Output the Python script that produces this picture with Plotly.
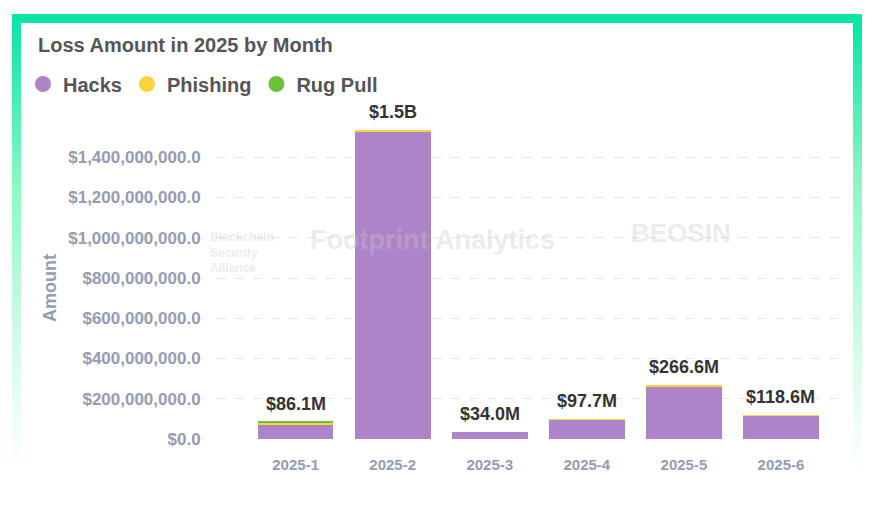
import plotly.graph_objects as go

months = ["2025-1", "2025-2", "2025-3", "2025-4", "2025-5", "2025-6"]
hacks = [72.0e6, 1528.0e6, 34.0e6, 97.0e6, 260.6e6, 118.0e6]
phishing = [8.5e6, 5.5e6, 0.0, 0.7e6, 6.0e6, 0.6e6]
rug_pull = [5.6e6, 0.0, 0.0, 0.0, 0.0, 0.0]
total_labels = ["$86.1M", "$1.5B", "$34.0M", "$97.7M", "$266.6M", "$118.6M"]
y_ticks = [0, 2e8, 4e8, 6e8, 8e8, 1e9, 1.2e9, 1.4e9]

C_HACK = "#AE84C8"
C_PHISH = "#FDD23A"
C_RUG = "#6CC13A"
FONT = "Liberation Sans"

W, H = 885, 511
L, R, T, B = 217, 39, 117, 72
pw, ph = W - L - R, H - T - B

def px2paper_x(x):
    return (x - L) / pw

def px2paper_y(y):
    return (H - B - y) / ph

fig = go.Figure()
for name, vals, col in [("Hacks", hacks, C_HACK), ("Phishing", phishing, C_PHISH), ("Rug Pull", rug_pull, C_RUG)]:
    fig.add_trace(go.Bar(x=months, y=vals, name=name, marker=dict(color=col, line=dict(width=0)),
                         width=0.78, showlegend=False))
    fig.add_trace(go.Scatter(x=[None], y=[None], mode="markers", name=name,
                             marker=dict(color=col, size=17, symbol="circle"), showlegend=True))

totals = [h + p + r for h, p, r in zip(hacks, phishing, rug_pull)]
for m, t, lab in zip(months, totals, total_labels):
    fig.add_annotation(x=m, y=t, text=lab, showarrow=False, yanchor="bottom", yshift=6,
                       font=dict(family=FONT, size=18, color="#333333", weight="bold"))

# title
fig.add_annotation(xref="paper", yref="paper", x=px2paper_x(36), y=px2paper_y(45), xanchor="left",
                   yanchor="middle", text="Loss Amount in 2025 by Month", showarrow=False,
                   font=dict(family=FONT, size=20, color="#555555", weight="bold"))
# y axis title
fig.add_annotation(xref="paper", yref="paper", x=px2paper_x(50), y=px2paper_y(288), textangle=-90,
                   text="Amount", showarrow=False, xanchor="center", yanchor="middle",
                   font=dict(family=FONT, size=18, color="#959BB2", weight="bold"))

# faint watermarks
fig.add_annotation(xref="paper", yref="paper", x=px2paper_x(432), y=px2paper_y(240), text="Footprint Analytics",
                   showarrow=False, font=dict(family=FONT, size=27, color="rgba(200,200,200,0.35)", weight="bold"))
fig.add_annotation(xref="paper", yref="paper", x=px2paper_x(733), y=px2paper_y(233), text="BEOSIN",
                   showarrow=False, font=dict(family=FONT, size=26, color="rgba(200,200,200,0.35)", weight="bold"))
fig.add_annotation(xref="paper", yref="paper", x=px2paper_x(208), y=px2paper_y(252), xanchor="left",
                   text="Blockchain<br>Security<br>Alliance", align="left",
                   showarrow=False, font=dict(family=FONT, size=12, color="rgba(200,200,200,0.35)", weight="bold"))

# frame with gradient
shapes = []
shapes.append(dict(type="rect", xref="paper", yref="paper", x0=px2paper_x(12), x1=px2paper_x(862),
                   y0=px2paper_y(14), y1=px2paper_y(23), fillcolor="#0BE6A6", line=dict(width=0), layer="below"))
top, bot = 23, 485
n = 60
c0 = (11, 230, 166)
c1 = (140, 248, 196)
for i in range(n):
    ya = top + (bot - top) * i / n
    yb = top + (bot - top) * (i + 1) / n
    f = i / (n - 1)
    if f < 0.35:
        g = f / 0.35
        col = tuple(round(c0[k] + (c1[k] - c0[k]) * g) for k in range(3))
        a = 1.0
    else:
        col = c1
        a = max(0.0, 1 - (f - 0.35) / 0.65) ** 1.2
    rgb = tuple(round(255 - (255 - col[k]) * a) for k in range(3))
    fc = "rgb(%d,%d,%d)" % rgb
    for xa, xb in [(12, 21), (853, 862)]:
        shapes.append(dict(type="rect", xref="paper", yref="paper", x0=px2paper_x(xa), x1=px2paper_x(xb),
                           y0=px2paper_y(yb + 0.5), y1=px2paper_y(ya), fillcolor=fc, line=dict(width=0),
                           layer="below"))

fig.update_layout(
    width=W, height=H, margin=dict(l=L, r=R, t=T, b=B),
    barmode="stack",
    paper_bgcolor="white", plot_bgcolor="rgba(0,0,0,0)",
    shapes=shapes,
    showlegend=True,
    legend=dict(orientation="h", x=px2paper_x(23), y=px2paper_y(84), xanchor="left", yanchor="middle",
                traceorder="normal",
                font=dict(family=FONT, size=20, color="#555555", weight="bold"),
                bgcolor="rgba(0,0,0,0)", itemclick=False),
    xaxis=dict(type="category", range=[-0.81, 5.67], showgrid=False, showline=False, zeroline=False,
               ticks="outside", ticklen=12, tickcolor="rgba(0,0,0,0)",
               tickfont=dict(family=FONT, size=15, color="#959BB2", weight="bold")),
    yaxis=dict(range=[0, 1.6e9], tickvals=y_ticks, tickformat="$,.1f", showgrid=True, gridcolor="#E6E6E6",
               griddash="dash", gridwidth=1, zeroline=False, showline=False,
               ticks="outside", ticklen=12, tickcolor="rgba(0,0,0,0)",
               tickfont=dict(family=FONT, size=17, color="#959BB2", weight="bold")),
)

fig.write_html("out.html")
